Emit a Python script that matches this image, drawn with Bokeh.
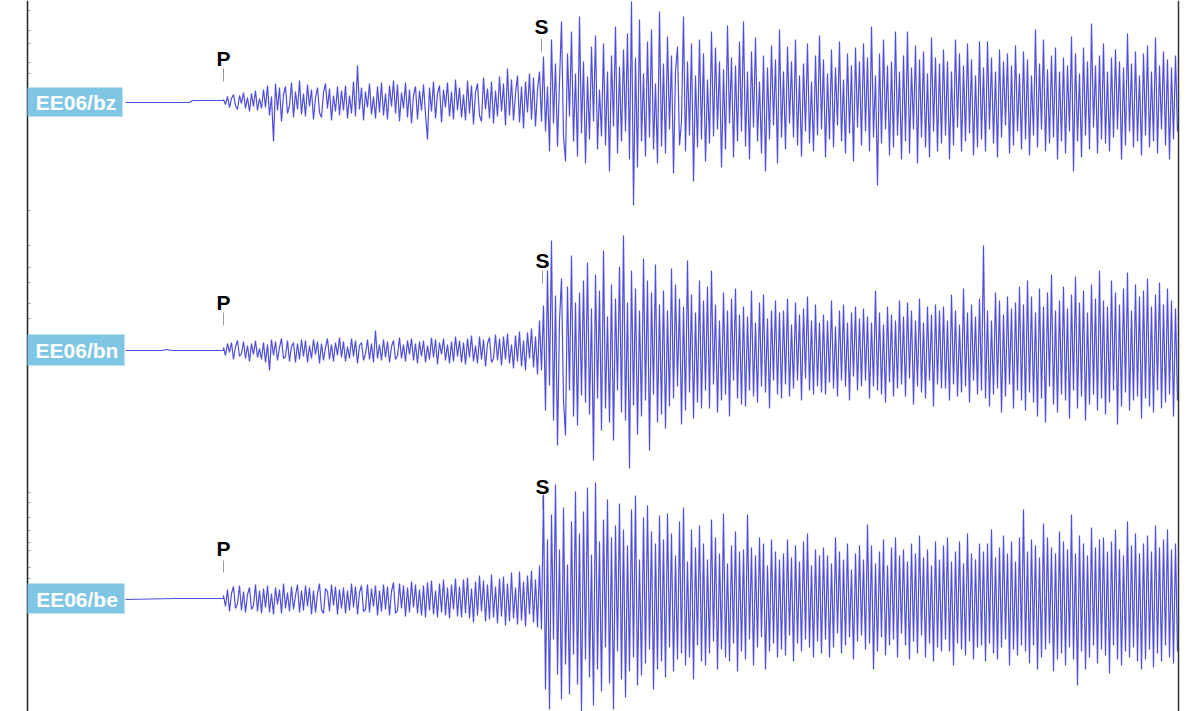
import numpy as np
from bokeh.plotting import figure
from bokeh.models import Range1d
from bokeh.embed import file_html
from bokeh.resources import INLINE
from bokeh.core.properties import value

# ---------------- data ----------------
stations = ["EE06/bz", "EE06/bn", "EE06/be"]
p_pick = [9.8, 9.8, 9.8]          # seconds after trace start
s_pick = [41.6, 41.7, 41.7]
dt = 0.2                           # sample interval after P (s)

pre_t_bz = [0.0, 6.4, 6.7, 9.8]
pre_v_bz = [-1, -1, 1, 1]
pre_t_bn = [0.0, 3.6, 4.1, 4.6, 9.8]
pre_v_bn = [0, 0, 1, 0, 0]
pre_t_be = [0.0, 5.0, 9.8]
pre_v_be = [0, 1, 1]

bz = [2, -3, 5, -6, 3, 7, -4, -8, 6, -2, 9, -7, 4, -10, 8, -5, 11, -9, 3, -7,
      12, -6, 16, -14, 5, -40, 18, -9, 14, -20, 7, 15, -12, -4, 19, -16, 10, -8, 21, -13,
      8, -15, 17, -5, 12, -18, 4, 14, -11, -16, 9, 18, -7, 13, -19, 6, -10, 15, -14, 11,
      -9, 16, -17, 6, -12, 20, -15, 36, -8, 14, -19, 10, -6, 18, -13, 5, -17, 15, -11, 19,
      -14, 8, -18, 16, -5, 21, -12, 17, -20, 9, -7, 19, -16, 12, -22, 6, 15, -18, 11, -9,
      17, -13, -38, 14, -10, 20, -17, 8, 16, -21, 12, -6, 19, -15, 10, -18, 22, -9, 14, -16,
      7, -19, 21, -12, 16, -23, 9, 18, -14, -20, 24, -8, 13, -17, 20, -22, 11, -15, 25, -10,
      18, -24, 33, -14, 22, -19, 8, 26, -21, 15, -27, 20, -11, 28, -18, 24, -25, 12, 30, -20,
      45, -30, 15, -50, 62, -22, 38, -45, 20, 80, -35, -60, 48, -15, 70, -40, 28, -55, 85, -32,
      40, -62, 25, -38, 55, -20, 66, -48, 12, -35, 58, -44, 30, -70, 46, -25, 75, -52, 35, -40,
      52, -30, 68, -58, 100, -104, 44, -66, 82, -40, 28, -55, 60, -36, 72, -48, 18, -62, 90, -45,
      38, -52, 65, -28, 46, -72, 30, 55, -44, -20, 85, -50, 40, -34, 58, -80, 26, -46, 62, -38,
      48, -60, 22, -42, 70, -35, 54, -28, 40, -66, 32, -48, 76, -22, 44, -56, 36, -40, 60, -30,
      80, -45, 30, -58, 50, -26, 64, -40, 20, -52, 46, -70, 34, -38, 56, -24, 42, -62, 72, -36,
      30, -48, 55, -22, 40, -36, 62, -44, 26, -55, 38, -30, 58, -42, 20, -50, 46, -34, 66, -28,
      42, -56, 28, -38, 52, -46, 34, -24, 60, -40, 22, -52, 48, -32, 36, -60, 54, -26, 40, -44,
      58, -30, 44, -50, 75, -36, 26, -84, 48, -42, 62, -28, 36, -54, 40, -46, 70, -34, 30, -58,
      46, -40, 70, -52, 34, -28, 56, -62, 42, -36, 50, -46, 28, -56, 64, -30, 44, -50, 38, -42,
      52, -34, 40, -58, 30, -44, 62, -26, 48, -50, 36, -40, 58, -32, 42, -54, 26, -46, 60, -38,
      34, -50, 60, -28, 44, -42, 30, -56, 52, -36, 40, -24, 48, -52, 36, -44, 56, -30, 28, -48,
      50, -38, 42, -54, 26, -34, 72, -46, 38, -28, 62, -50, 32, -42, 46, -36, 54, -58, 30, -40,
      44, -52, 36, -30, 65, -70, 48, -40, 28, -56, 54, -34, 40, -48, 78, -26, 36, -52, 46, -38,
      58, -42, 30, -50, 44, -36, 52, -28, 40, -58, 34, -44, 68, -30, 38, -46, 50, -40, 26, -54,
      48, -34, 56, -46, 30, -40, 64, -52, 36, -28, 50, -44, 42, -58, 34, -38, 46, -30]

bn = [3, -5, 7, -2, 8, -9, 4, 10, -6, -3, 9, -8, 5, -11, 7, -4, 10, -7, 2, -9,
      8, -12, 6, -20, 11, -5, 9, -10, 3, 12, -8, -6, 10, -11, 4, 8, -12, 7, -9, 11,
      -6, 10, -12, 5, -8, 11, -4, 9, -13, 7, -10, 3, 12, -9, 6, -11, 8, -5, 13, -7,
      9, -11, 4, -8, 12, -6, 10, -13, 5, 8, -10, -3, 11, -9, 7, -12, 20, -8, 6, -10,
      11, -7, 9, -12, 4, 10, -9, -5, 13, -8, 6, -11, 10, -4, 12, -10, 7, -13, 9, -6,
      10, -12, 5, -9, 13, -7, 11, -14, 8, -4, 12, -10, 6, -13, 9, -11, 14, -6, 10, -12,
      8, -14, 12, -7, 15, -11, 5, -13, 14, -9, 11, -16, 7, 13, -12, -8, 16, -10, 12, -15,
      14, -9, 17, -13, 6, -18, 15, -11, 19, -16, 10, -20, 18, -8, 22, -17, 14, -24, 30, -20,
      45, -60, 80, -35, 110, -70, 55, -95, 30, 72, -50, -85, 64, -40, 95, -66, 48, -75, 58, -45,
      70, -52, 88, -64, 42, -110, 76, -48, 60, -80, 100, -58, 34, -72, 66, -90, 52, -40, 84, -62,
      115, -70, 48, -118, 80, -55, 62, -84, 40, -66, 92, -50, 70, -100, 58, -44, 86, -72, 46, -64,
      60, -78, 40, -56, 82, -48, 66, -36, 52, -74, 44, -60, 90, -42, 56, -68, 38, -52, 70, -58,
      50, -40, 64, -58, 80, -34, 46, -62, 30, -50, 58, -44, 40, -66, 52, -30, 62, -48, 36, -54,
      44, -56, 34, -40, 60, -46, 28, -52, 48, -36, 56, -42, 32, -58, 40, -30, 50, -44, 38, -48,
      40, -34, 52, -46, 26, -38, 48, -30, 36, -50, 42, -28, 54, -40, 30, -44, 46, -36, 28, -42,
      36, -44, 30, -32, 50, -38, 24, -46, 40, -30, 46, -36, 28, -50, 38, -26, 44, -40, 32, -36,
      42, -30, 34, -48, 28, -36, 60, -40, 38, -44, 26, -52, 44, -32, 36, -46, 30, -38, 50, -34,
      34, -46, 48, -28, 40, -54, 30, -36, 52, -42, 28, -48, 44, -30, 36, -56, 46, -34, 40, -38,
      44, -38, 30, -50, 56, -34, 40, -46, 26, -42, 62, -36, 38, -52, 46, -30, 34, -44, 52, -40,
      105, -48, 40, -56, 30, -44, 58, -38, 50, -62, 36, -46, 54, -34, 42, -58, 48, -40, 64, -50,
      46, -60, 70, -42, 54, -52, 38, -66, 62, -48, 44, -72, 58, -36, 76, -54, 40, -62, 50, -44,
      64, -50, 42, -68, 56, -40, 74, -58, 48, -46, 60, -70, 38, -54, 66, -44, 52, -60, 80, -48,
      50, -64, 44, -52, 70, -40, 58, -74, 46, -56, 62, -42, 78, -60, 40, -50, 66, -46, 54, -68,
      60, -48, 72, -56, 44, -62, 56, -40, 68, -58, 46, -52, 62, -44, 50, -66, 42, -50]

be = [4, -7, 10, -12, 6, 13, -9, -4, 14, -11, 8, -13, 5, 12, -10, -6, 15, -12, 9, -14,
      11, -8, 14, -13, 6, -15, 12, -5, 10, -14, 16, -9, 7, -12, 13, -10, 4, 15, -13, 9,
      -11, 14, -7, 12, -15, 9, -13, 6, 16, -10, -14, 11, 8, -12, 15, -6, 13, -15, 10, -9,
      12, -14, 9, -11, 16, -8, 13, -15, 7, 14, -12, -10, 15, -13, 11, -7, 14, -16, 9, -12,
      15, -10, 13, -16, 8, 17, -14, -11, 16, -9, 14, -17, 12, -13, 18, -8, 15, -14, 10, -16,
      14, -18, 17, -11, 19, -15, 9, -18, 16, -13, 20, -16, 12, -19, 15, -10, 21, -17, 13, -18,
      20, -14, 22, -19, 11, -23, 18, -16, 24, -12, 19, -22, 15, -20, 25, -18, 13, -24, 21, -17,
      23, -26, 16, -22, 27, -19, 12, -25, 28, -21, 18, -27, 24, -15, 29, -23, 20, -28, 34, -30,
      105, -90, 60, -110, 85, -40, 115, -75, 50, -100, 92, -65, 35, -95, 78, -55, 108, -85, 66, -112,
      88, -60, 112, -78, 45, -106, 117, -70, 58, -92, 80, -48, 100, -84, 62, -110, 74, -52, 96, -80,
      70, -98, 54, -72, 90, -58, 104, -86, 40, -76, 82, -64, 94, -50, 68, -90, 56, -70, 84, -62,
      60, -78, 86, -48, 66, -72, 44, -60, 78, -54, 92, -66, 38, -58, 70, -80, 52, -46, 74, -62,
      56, -66, 40, -54, 80, -42, 62, -70, 46, -50, 86, -58, 36, -62, 54, -44, 68, -72, 48, -52,
      50, -60, 85, -40, 52, -66, 44, -48, 62, -38, 56, -70, 34, -52, 60, -44, 48, -58, 40, -50,
      46, -56, 60, -36, 42, -62, 54, -44, 38, -52, 58, -40, 66, -48, 34, -58, 50, -42, 44, -54,
      52, -40, 44, -58, 36, -48, 62, -34, 48, -54, 40, -46, 56, -38, 30, -60, 46, -42, 54, -36,
      40, -50, 75, -44, 54, -70, 36, -52, 48, -38, 60, -56, 34, -46, 52, -40, 62, -58, 44, -34,
      50, -46, 38, -60, 56, -42, 46, -54, 64, -36, 42, -58, 50, -44, 34, -62, 58, -48, 40, -52,
      54, -40, 62, -52, 38, -66, 48, -44, 58, -50, 36, -56, 66, -42, 46, -60, 40, -48, 56, -46,
      48, -62, 56, -44, 70, -54, 42, -60, 52, -48, 64, -40, 46, -66, 58, -50, 38, -56, 62, -46,
      90, -52, 48, -64, 60, -46, 54, -70, 42, -58, 76, -50, 62, -44, 52, -72, 46, -60, 68, -54,
      58, -66, 50, -48, 85, -60, 46, -86, 64, -52, 56, -70, 44, -58, 72, -46, 52, -64, 60, -50,
      62, -56, 48, -74, 58, -46, 70, -60, 50, -66, 44, -52, 78, -58, 54, -48, 66, -62, 46, -70,
      56, -60, 64, -50, 48, -68, 74, -54, 52, -62, 60, -46, 70, -58, 50, -64, 56, -52]

left_ticks = [10, 30, 43, 62, 73, 210, 245, 267, 282, 303, 318, 492, 502, 517, 530, 542, 550, 567, 578]

# ---------------- layout ----------------
W, H = 1200, 711
PX_PER_S = 10.0
X0 = 125                          # screen x of trace start (t = 0)
T0 = -X0 / PX_PER_S               # time at left edge of figure
TEXT_ADJ = 7                      # svg text baseline correction (px)
trace_color = "#2e2ed8"
box_color = "#7ec6e4"
FONT = value("Liberation Sans")

p = figure(width=W, height=H, output_backend="svg", toolbar_location=None,
           x_range=Range1d(T0, T0 + W / PX_PER_S), y_range=Range1d(0, H),
           min_border=0, background_fill_color="white", border_fill_color="white")
p.axis.visible = False
p.grid.visible = False
p.outline_line_color = None

def sy(screen_y):
    return H - screen_y

def sx(screen_x):
    return (screen_x - X0) / PX_PER_S

centres = [101, 350, 599]
baselines = [sy(c) for c in centres]

pre = [(pre_t_bz, pre_v_bz), (pre_t_bn, pre_v_bn), (pre_t_be, pre_v_be)]
traces = [bz, bn, be]

for k in range(3):
    base = baselines[k]
    pt, pv = pre[k]
    post = np.asarray(traces[k], dtype=float)
    tt = p_pick[k] + dt * np.arange(len(post))
    t_all = np.concatenate([np.asarray(pt, float), tt])
    v_all = np.concatenate([np.asarray(pv, float), post])
    p.line(t_all, base + v_all, line_color=trace_color, line_width=1.2, line_alpha=0.85,
           line_join="bevel")

# frame lines
x_left = sx(27)
x_right = sx(1178)
p.segment(x0=[x_left, x_right], y0=[0, 0], x1=[x_left, x_right], y1=[H, H],
          line_color=["#222222", "#333333"], line_width=1.5)
ty = [sy(v) for v in left_ticks]
p.segment(x0=[x_left] * len(ty), y0=ty, x1=[x_left + 0.3] * len(ty), y1=ty,
          line_color="#555555", line_width=1, line_alpha=0.6)

# station label boxes
box_top = [87, 334, 583]
box_bot = [116, 365, 613]
box_right = [122, 124, 124]
text_base = [109, 357, 606]
for k in range(3):
    left = x_left
    right = sx(box_right[k])
    p.quad(left=[left], right=[right], top=[sy(box_top[k])], bottom=[sy(box_bot[k])],
           fill_color=box_color, line_color=None)
    p.text(x=[(left + right) / 2 + 0.1], y=[sy(text_base[k] - TEXT_ADJ)], text=[stations[k]],
           text_color="white", text_font=FONT, text_font_style="bold",
           text_font_size="21px", text_align="center", text_baseline="alphabetic")

# phase picks
p_text_base = [65, 309, 555]
p_tick = [(68, 81), (312, 325), (560, 572)]
s_text_base = [33, 267, 493]
s_tick = [(38, 51), (270, 283), (496, 509)]
for k in range(3):
    for tpick, tb, (a, b), lab in [(p_pick[k], p_text_base[k], p_tick[k], "P"),
                                   (s_pick[k], s_text_base[k], s_tick[k], "S")]:
        p.text(x=[tpick], y=[sy(tb - TEXT_ADJ)], text=[lab], text_color="black", text_font=FONT,
               text_font_style="bold", text_font_size="21px", text_align="center",
               text_baseline="alphabetic")
        p.segment(x0=[tpick], y0=[sy(a)], x1=[tpick], y1=[sy(b)],
                  line_color="#999999", line_width=1)

open("out.html", "w").write(file_html(p, INLINE))
